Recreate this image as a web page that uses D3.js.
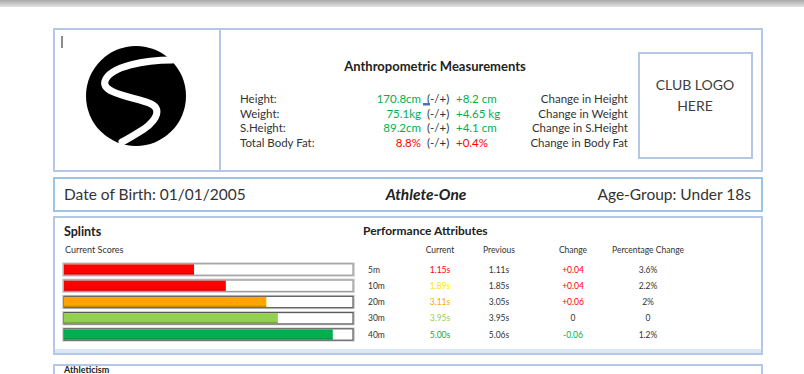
<!DOCTYPE html>
<html>
<head>
<meta charset="utf-8">
<script src="https://cdn.jsdelivr.net/npm/d3@7"></script>
<style>
body { margin: 0; background: #fff; }
svg { display: block; font-family: Lato, "Liberation Sans", sans-serif; }
</style>
</head>
<body>
<div id="chart"></div>
<script>
// anthropometric block
var anthroLabels = ["Height:", "Weight:", "S.Height:", "Total Body Fat:"];
var anthroValues = ["170.8cm", "75.1kg", "89.2cm", "8.8%"];
var anthroChanges = ["+8.2 cm", "+4.65 kg", "+4.1 cm", "+0.4%"];
var anthroStatus = ["good", "good", "good", "bad"];
var anthroNotes = ["Change in Height", "Change in Weight", "Change in S.Height", "Change in Body Fat"];

// athlete strip
var dateOfBirth = "01/01/2005";
var athleteName = "Athlete-One";
var ageGroup = "Under 18s";

// sprints
var sprintDistances = ["5m", "10m", "20m", "30m", "40m"];
var sprintScores = [45, 56, 70, 74, 93];
var sprintBands = ["poor", "poor", "fair", "good", "best"];
var currentTimes = ["1.15s", "1.89s", "3.11s", "3.95s", "5.00s"];
var currentBands = ["poor", "weak", "fair", "good", "best"];
var previousTimes = ["1.11s", "1.85s", "3.05s", "3.95s", "5.06s"];
var timeChanges = ["+0.04", "+0.04", "+0.06", "0", "-0.06"];
var pctChanges = ["3.6%", "2.2%", "2%", "0", "1.2%"];
var tableHeaders = ["Current", "Previous", "Change", "Percentage Change"];

var W = 804, H = 374;
var svg = d3.select("#chart").append("svg").attr("width", W).attr("height", H);

var bandColor = d3.scaleOrdinal()
    .domain(["poor", "weak", "fair", "good", "best"])
    .range(["#ff0000", "#ffe600", "#ffa500", "#92d050", "#00b050"]);
var statusColor = d3.scaleOrdinal().domain(["good", "bad"]).range(["#00b050", "#ff0000"]);
function signColor(s) { return s[0] == "+" ? "#ff0000" : (s[0] == "-" ? "#00b050" : "#333"); }

// grey bar at top of the window
var grad = svg.append("defs").append("linearGradient").attr("id", "topbar").attr("x1", 0).attr("x2", 0).attr("y1", 0).attr("y2", 1);
grad.append("stop").attr("offset", 0).attr("stop-color", "#a9a9a9");
grad.append("stop").attr("offset", 1).attr("stop-color", "#e2e2e2");
svg.append("rect").attr("width", W).attr("height", 7).attr("fill", "url(#topbar)");

/* panels */
function panel(x, y, w, h, col) {
    svg.append("rect").attr("x", x).attr("y", y).attr("width", w).attr("height", h)
        .attr("fill", "none").attr("stroke", col || "#b4c7e7").attr("stroke-width", 2);
}
panel(54, 29, 708, 142);
panel(54, 178, 708, 33, "#9dc3e6");
svg.append("rect").attr("x", 54).attr("y", 349).attr("width", 708).attr("height", 6).attr("fill", "#dce6f4");
panel(54, 217, 708, 137);
panel(54, 365, 708, 30);
svg.append("line").attr("x1", 220).attr("x2", 220).attr("y1", 29).attr("y2", 171)
    .attr("stroke", "#b4c7e7").attr("stroke-width", 2);

// text cursor
svg.append("line").attr("x1", 62).attr("x2", 62).attr("y1", 36).attr("y2", 48).attr("stroke", "#666").attr("stroke-width", 1.5);

// logo
var logo = svg.append("g").attr("transform", "translate(136,96)");
logo.append("circle").attr("r", 50).attr("fill", "#000");
logo.append("path")
    .attr("d", "M36,-36 C10,-36 -26,-30 -31,-15 C-35,-3 -4,1 13,7 C26,12 22,23 8,33 C0,38 -8,43 -14,46")
    .attr("fill", "none").attr("stroke", "#fff").attr("stroke-width", 7).attr("stroke-linecap", "round");

// club logo placeholder
svg.append("rect").attr("x", 639).attr("y", 53).attr("width", 113).attr("height", 105)
    .attr("fill", "none").attr("stroke", "#b4c7e7").attr("stroke-width", 2);
svg.append("text").attr("x", 695).attr("y", 90).attr("text-anchor", "middle")
    .attr("font-size", 14).attr("fill", "#404040").text("CLUB LOGO");
svg.append("text").attr("x", 695).attr("y", 111).attr("text-anchor", "middle")
    .attr("font-size", 14).attr("fill", "#404040").text("HERE");

// anthropometric measurements
svg.append("text").attr("x", 435).attr("y", 71).attr("text-anchor", "middle")
    .attr("font-size", 13).attr("font-weight", "bold").attr("fill", "#222").text("Anthropometric Measurements");

var ay = d3.scalePoint().domain(anthroLabels).range([99, 143]);
var arow = svg.append("g").selectAll("g").data(anthroLabels).join("g")
    .attr("transform", function(d) { return "translate(0," + (ay(d) + 4) + ")"; })
    .attr("font-size", 11.5);
arow.append("text").attr("x", 240).attr("fill", "#333").text(function(d) { return d; });
arow.append("text").attr("x", 421).attr("text-anchor", "end")
    .attr("fill", function(d, i) { return statusColor(anthroStatus[i]); })
    .text(function(d, i) { return anthroValues[i]; });
arow.append("text").attr("x", 427).attr("fill", "#333").text("(-/+)");
arow.append("text").attr("x", 456)
    .attr("fill", function(d, i) { return statusColor(anthroStatus[i]); })
    .text(function(d, i) { return anthroChanges[i]; });
arow.append("text").attr("x", 628).attr("text-anchor", "end").attr("fill", "#333")
    .text(function(d, i) { return anthroNotes[i]; });
svg.append("rect").attr("x", 423).attr("y", 103).attr("width", 7).attr("height", 2.5).attr("fill", "#4472c4");

// athlete strip
svg.append("text").attr("x", 64).attr("y", 200).attr("font-size", 15.5).attr("fill", "#333")
    .text("Date of Birth: " + dateOfBirth);
svg.append("text").attr("x", 426).attr("y", 200).attr("text-anchor", "middle").attr("font-size", 15.5)
    .attr("font-weight", "bold").attr("font-style", "italic").attr("fill", "#222").text(athleteName);
svg.append("text").attr("x", 751).attr("y", 200).attr("text-anchor", "end").attr("font-size", 15.5)
    .attr("fill", "#333").text("Age-Group: " + ageGroup);

// sprints
svg.append("text").attr("x", 64).attr("y", 236).attr("font-size", 12.5).attr("font-weight", "bold")
    .attr("fill", "#222").text("Splints");
svg.append("text").attr("x", 65).attr("y", 253).attr("font-size", 9).attr("fill", "#333").text("Current Scores");

var sy = d3.scaleBand().domain(sprintDistances).range([263, 341]).paddingInner(0.3).paddingOuter(0.05);
var sx = d3.scaleLinear().domain([0, 100]).range([64, 353]);

var bars = svg.append("g").selectAll("g").data(sprintDistances).join("g")
    .attr("transform", function(d) { return "translate(0," + sy(d) + ")"; });
bars.append("rect").attr("x", sx(0) - 2).attr("y", -1.5).attr("width", sx(100) - sx(0) + 4)
    .attr("height", sy.bandwidth() + 3).attr("fill", "#d4d4d4");
bars.append("rect").attr("x", sx(0)).attr("y", 0).attr("width", sx(100) - sx(0))
    .attr("height", sy.bandwidth()).attr("fill", "#fff")
    .attr("stroke", function(d, i) { return i < 2 ? "#9a9a9a" : "#5a5a5a"; }).attr("stroke-width", 1.2);
bars.append("rect").attr("x", sx(0)).attr("y", 0.6)
    .attr("width", function(d, i) { return sx(sprintScores[i]) - sx(0); })
    .attr("height", sy.bandwidth() - 1.2)
    .attr("fill", function(d, i) { return bandColor(sprintBands[i]); });
bars.append("rect").attr("x", sx(0)).attr("y", sy.bandwidth() - 2)
    .attr("width", function(d, i) { return sx(sprintScores[i]) - sx(0); })
    .attr("height", 1.5).attr("fill", "#000").attr("opacity", 0.18);

// performance attributes table
svg.append("text").attr("x", 363).attr("y", 235).attr("font-size", 12).attr("font-weight", "bold")
    .attr("fill", "#222").text("Performance Attributes");

var colX = { "Current": 440, "Previous": 499, "Change": 573, "Percentage Change": 648 };
svg.append("g").selectAll("text").data(tableHeaders).join("text")
    .attr("x", function(d) { return colX[d]; }).attr("y", 253).attr("text-anchor", "middle")
    .attr("font-size", 8.5).attr("fill", "#333").text(function(d) { return d; });

var trow = svg.append("g").selectAll("g").data(sprintDistances).join("g")
    .attr("transform", function(d) { return "translate(0," + (sy(d) + sy.bandwidth() / 2 + 3) + ")"; })
    .attr("font-size", 8.5);
trow.append("text").attr("x", 368).attr("fill", "#333").text(function(d) { return d; });
trow.append("text").attr("x", colX["Current"]).attr("text-anchor", "middle")
    .attr("fill", function(d, i) { return bandColor(currentBands[i]); })
    .text(function(d, i) { return currentTimes[i]; });
trow.append("text").attr("x", colX["Previous"]).attr("text-anchor", "middle").attr("fill", "#333")
    .text(function(d, i) { return previousTimes[i]; });
trow.append("text").attr("x", colX["Change"]).attr("text-anchor", "middle")
    .attr("fill", function(d, i) { return signColor(timeChanges[i]); })
    .text(function(d, i) { return timeChanges[i]; });
trow.append("text").attr("x", colX["Percentage Change"]).attr("text-anchor", "middle").attr("fill", "#333")
    .text(function(d, i) { return pctChanges[i]; });

// next panel heading, just peeking in at the bottom edge
svg.append("text").attr("x", 64).attr("y", 373).attr("font-size", 9).attr("font-weight", "bold")
    .attr("fill", "#222").text("Athleticism");
</script>
</body>
</html>
